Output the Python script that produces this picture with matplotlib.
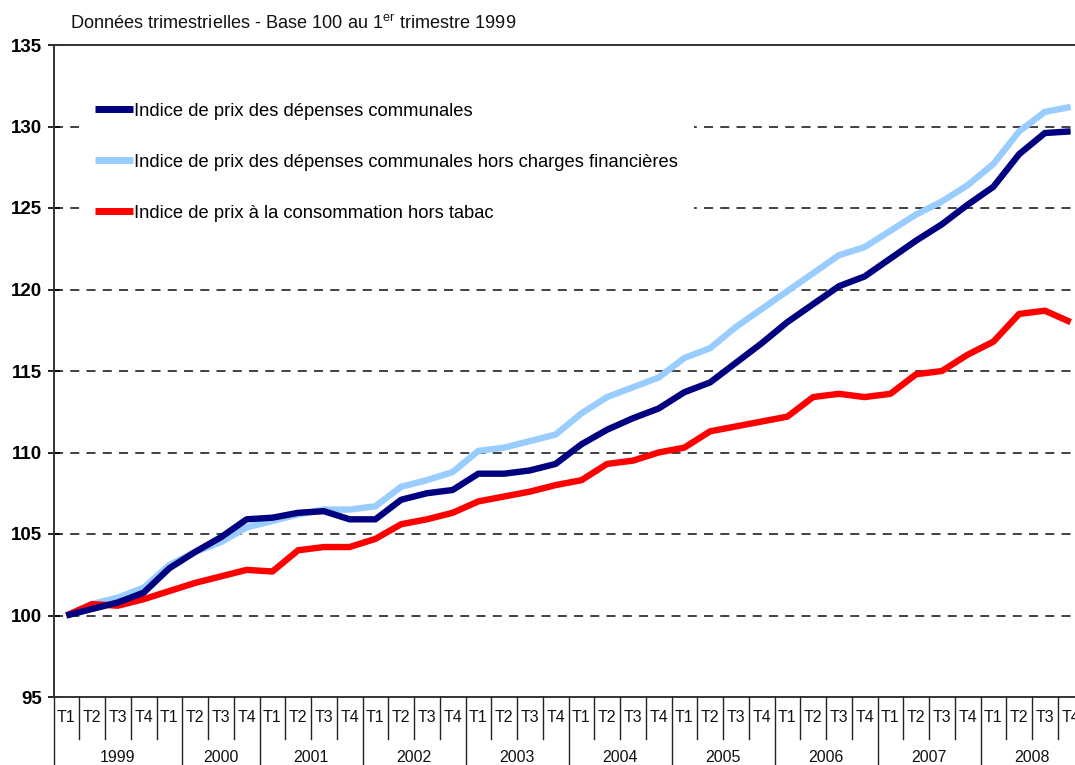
import matplotlib
matplotlib.use("Agg")
import matplotlib.pyplot as plt
import matplotlib.transforms as mtransforms

years = ["1999", "2000", "2001", "2002", "2003", "2004", "2005", "2006", "2007", "2008"]
# number of quarter cells grouped under each year label (as drawn in the reference)
year_cells = [5, 3, 4, 4, 4, 4, 4, 4, 4, 4]
quarters = ["T1", "T2", "T3", "T4"]

communales = [100.0, 100.4, 100.8, 101.4, 102.9, 103.9, 104.8, 105.9,
              106.0, 106.3, 106.4, 105.9, 105.9, 107.1, 107.5, 107.7,
              108.7, 108.7, 108.9, 109.3, 110.5, 111.4, 112.1, 112.7,
              113.7, 114.3, 115.5, 116.7, 118.0, 119.1, 120.2, 120.8,
              121.9, 123.0, 124.0, 125.2, 126.3, 128.3, 129.6, 129.7]
hors_charges = [100.0, 100.7, 101.1, 101.7, 103.1, 103.9, 104.5, 105.4,
                105.8, 106.2, 106.5, 106.5, 106.7, 107.9, 108.3, 108.8,
                110.1, 110.3, 110.7, 111.1, 112.4, 113.4, 114.0, 114.6,
                115.8, 116.4, 117.7, 118.8, 119.9, 121.0, 122.1, 122.6,
                123.6, 124.6, 125.4, 126.4, 127.7, 129.7, 130.9, 131.2]
ipc_hors_tabac = [100.0, 100.7, 100.6, 101.0, 101.5, 102.0, 102.4, 102.8,
                  102.7, 104.0, 104.2, 104.2, 104.7, 105.6, 105.9, 106.3,
                  107.0, 107.3, 107.6, 108.0, 108.3, 109.3, 109.5, 110.0,
                  110.3, 111.3, 111.6, 111.9, 112.2, 113.4, 113.6, 113.4,
                  113.6, 114.8, 115.0, 116.0, 116.8, 118.5, 118.7, 118.0]

labels = ["Indice de prix des dépenses communales",
          "Indice de prix des dépenses communales hors charges financières",
          "Indice de prix à la consommation hors tabac"]
colors = ["#000080", "#99CCFF", "#FF0000"]

plt.rcParams['font.family'] = ['Liberation Sans', 'DejaVu Sans']

fig = plt.figure(figsize=(10.75, 7.65), dpi=100)
ax = fig.add_axes([53.5 / 1075, 1 - 697 / 765, 1030 / 1075, 652 / 765])

n = len(communales)
x = list(range(n))

# gridlines
for v in [100, 105, 110, 115, 120, 125, 130]:
    ax.axhline(v, color="#333333", lw=1.3, ls=(0, (5, 4)), zorder=1)

lines = []
for data, c, lab in [(communales, colors[0], labels[0]),
                     (hors_charges, colors[1], labels[1]),
                     (ipc_hors_tabac, colors[2], labels[2])]:
    ln, = ax.plot(x, data, color=c, lw=4.6, label=lab, zorder=3,
                  solid_joinstyle='round', solid_capstyle='butt')
    lines.append(ln)
lines[0].set_zorder(3.5)

ax.set_xlim(-0.5, n - 0.5)
ax.set_ylim(95, 135)
ax.set_yticks([95, 100, 105, 110, 115, 120, 125, 130, 135])
ax.tick_params(axis='y', direction='inout', length=9, width=1.2, labelsize=13.5, pad=4)
for t in ax.get_yticklabels():
    t.set_fontweight('bold')
ax.set_xticks([])

ax.spines['right'].set_visible(False)
for side in ['left', 'bottom', 'top']:
    ax.spines[side].set_color('#333333')
    ax.spines[side].set_linewidth(1.4)

# category axis below
trans = mtransforms.blended_transform_factory(ax.transData, ax.transAxes)
px = 1.0 / 652.0
year_bounds = [0]
for c in year_cells:
    year_bounds.append(year_bounds[-1] + c)
for i in range(n + 1):
    xb = i - 0.5
    if i in year_bounds:
        ax.plot([xb, xb], [0, -80 * px], transform=trans, color='#222222', lw=1.0, clip_on=False)
    else:
        ax.plot([xb, xb], [0, -42 * px], transform=trans, color='#222222', lw=1.0, clip_on=False)
for i in range(n):
    ax.text(i, -21 * px, quarters[i % 4], transform=trans, ha='center', va='center',
            fontsize=11.5, color='#111111', clip_on=False)
for k, yr in enumerate(years):
    xc = (year_bounds[k] + year_bounds[k + 1]) / 2 - 0.5
    ax.text(xc, -61 * px, yr, transform=trans, ha='center', va='center',
            fontsize=11.5, color='#111111', clip_on=False)

# title
fig.text(70 / 1075, 1 - 24 / 765,
         "Données trimestrielles - Base 100 au 1$^{\\mathregular{er}}$ trimestre 1999",
         fontsize=13.1, color='#111111', va='center', ha='left')

leg = ax.legend(handles=lines, loc='upper left', bbox_to_anchor=(25 / 1030, 1 - 41 / 652),
                frameon=True, facecolor='white', edgecolor='none', framealpha=1,
                fontsize=13.2, handlelength=2.07, handletextpad=0.05, labelspacing=1.86,
                borderpad=0.9, borderaxespad=0)
leg.set_zorder(5)
for h in leg.legend_handles:
    h.set_linewidth(5)

fig.savefig("out.png", dpi=100)
